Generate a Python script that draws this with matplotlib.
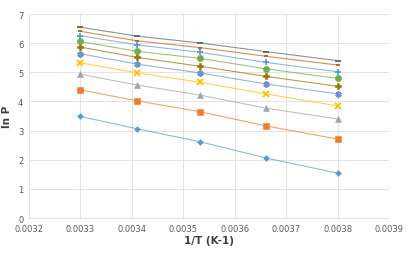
import matplotlib
matplotlib.use("Agg")
import matplotlib.pyplot as plt
import numpy as np

# 1/T values (K-1) for 30, 20, 10, 0, -10 C
inv_t = [0.003299, 0.003411, 0.003532, 0.003661, 0.003800]

# ln P series (bottom to top)
s1 = [3.49, 3.06, 2.62, 2.06, 1.54]
s2 = [4.40, 4.02, 3.65, 3.16, 2.71]
s3 = [4.94, 4.56, 4.22, 3.77, 3.40]
s4 = [5.33, 4.98, 4.66, 4.26, 3.85]
s5 = [5.64, 5.28, 4.98, 4.60, 4.26]
s6 = [5.87, 5.51, 5.21, 4.86, 4.52]
s7 = [6.06, 5.72, 5.48, 5.12, 4.79]
s8 = [6.26, 5.94, 5.69, 5.34, 5.02]
s9 = [6.41, 6.08, 5.85, 5.55, 5.25]
s10 = [6.55, 6.24, 6.01, 5.71, 5.40]

series = [s1, s2, s3, s4, s5, s6, s7, s8, s9, s10]
colors = ["#5B9BD5", "#ED7D31", "#A5A5A5", "#FFC000", "#6F8FD8",
          "#997300", "#70AD47", "#5B9BD5", "#C55A11", "#636363"]
markers = ["D", "s", "^", "x", (6, 2, 0), "P", "o", "+", "_", "_"]
msizes = [3, 4, 4, 4, 4.5, 4.5, 4.5, 4.5, 3.5, 4.5]

fig = plt.figure(figsize=(4.07, 2.55), dpi=100)
ax = fig.add_axes([0.071, 0.141, 0.885, 0.8])

for ys, c, m, ms in zip(series, colors, markers, msizes):
    ax.plot(inv_t, ys, color=c, lw=0.8, alpha=0.7, zorder=2)
    ax.plot(inv_t, ys, ls="none", marker=m, color=c, ms=ms,
            mew=1.3 if m in ("_", "+", "x", (6, 2, 0)) else 0.4, zorder=3)

ax.set_xlim(0.0032, 0.0039)
ax.set_ylim(0, 7)
ax.set_xticks(np.arange(0.0032, 0.00391, 0.0001))
ax.set_xticklabels(["%.4f" % v for v in np.arange(0.0032, 0.00391, 0.0001)])
ax.set_yticks(range(0, 8))
ax.grid(True, color="#E4E4E4", lw=0.8)
ax.set_axisbelow(True)
for sp in ax.spines.values():
    sp.set_visible(False)
ax.spines["bottom"].set_visible(True)
ax.spines["bottom"].set_color("#E4E4E4")
ax.tick_params(length=0, labelsize=6, labelcolor="#595959", pad=4)
ax.set_xlabel("1/T (K-1)", fontsize=7.5, fontweight="bold", color="#404040", labelpad=2)
ax.set_ylabel("ln P", fontsize=7.5, fontweight="bold", color="#404040", labelpad=4)

fig.savefig("out.png", dpi=100)
